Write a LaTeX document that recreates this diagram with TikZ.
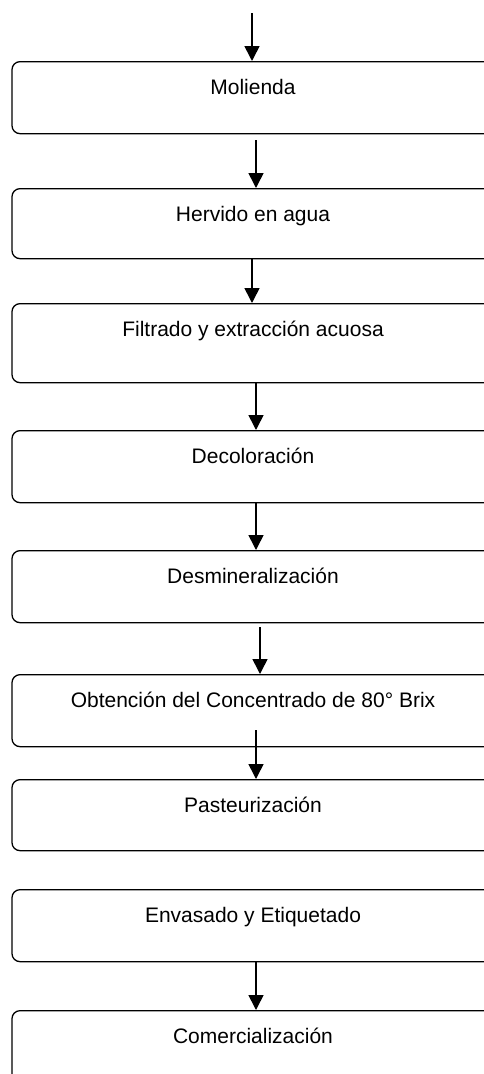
\documentclass[tikz,border=0pt]{standalone}
\usepackage{fontspec}
\setmainfont{Liberation Sans}
\usetikzlibrary{arrows.meta}

\newlength{\du}
\setlength{\du}{1pt}

\tikzset{
  paso/.style={draw=black, line width=1.3\du, rounded corners=8\du, fill=white,
    minimum width=482\du, inner xsep=0pt, inner ysep=0pt, text height=33\du,
    anchor=north, font=\fontsize{21}{25}\selectfont},
  flecha/.style={line width=1.6\du, -{Triangle[width=15pt,length=15pt]}}
}

\begin{document}
\begin{tikzpicture}[x=1\du,y=-1\du]
\useasboundingbox (0,0) rectangle (484,1074);
% pasos del proceso
\node[paso, text depth=39\du] (molienda) at (253,61) {Molienda};
\node[paso, text depth=37\du] (hervido) at (253,188) {Hervido en agua};
\node[paso, text depth=46\du] (filtrado) at (253,303) {Filtrado y extracción acuosa};
\node[paso, text depth=39\du] (decoloracion) at (253,430) {Decoloración};
\node[paso, text depth=39\du] (desmineral) at (253,550) {Desmineralización};
\node[paso, text depth=39\du] (concentrado) at (253,674) {Obtención del Concentrado de 80° Brix};
\node[paso, text depth=38\du] (pasteur) at (253,779) {Pasteurización};
\node[paso, text depth=39\du] (envasado) at (253,889) {Envasado y Etiquetado};
\node[paso, text depth=39\du] (comercial) at (253,1010) {Comercialización};
% flechas
\coordinate (inicio) at (252,13);
\draw[flecha] (inicio) -- ([xshift=-1pt]molienda.north);
\draw[flecha] ([xshift=3pt,yshift=-6pt]molienda.south) -- ([xshift=3pt]hervido.north);
\draw[flecha] ([xshift=-1pt]hervido.south) -- ([xshift=-1pt]filtrado.north);
\draw[flecha] ([xshift=3pt]filtrado.south) -- ([xshift=3pt]decoloracion.north);
\draw[flecha] ([xshift=3pt]decoloracion.south) -- ([xshift=3pt]desmineral.north);
\draw[flecha] ([xshift=7pt,yshift=-4pt]desmineral.south) -- ([xshift=7pt]concentrado.north);
\draw[flecha] ([xshift=3pt,yshift=17pt]concentrado.south) -- ([xshift=3pt]pasteur.north);
\draw[flecha] ([xshift=3pt]envasado.south) -- ([xshift=3pt]comercial.north);
\end{tikzpicture}
\end{document}
